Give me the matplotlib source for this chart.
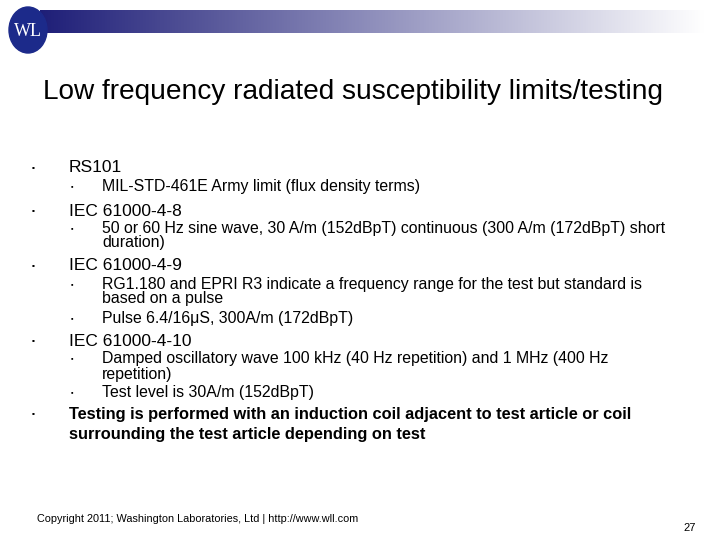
import numpy as np
import matplotlib.pyplot as plt
from matplotlib.patches import Ellipse

plt.rcParams['font.family'] = ['Liberation Sans', 'DejaVu Sans']

title = "Low frequency radiated susceptibility limits/testing"
# (level, y position in px, text)
lines = [
    (1, 168, "RS101"),
    (2, 187, "MIL-STD-461E Army limit (flux density terms)"),
    (1, 211, "IEC 61000-4-8"),
    (2, 229, "50 or 60 Hz sine wave, 30 A/m (152dBpT) continuous (300 A/m (172dBpT) short"),
    (3, 243, "duration)"),
    (1, 266, "IEC 61000-4-9"),
    (2, 285, "RG1.180 and EPRI R3 indicate a frequency range for the test but standard is"),
    (3, 299, "based on a pulse"),
    (2, 319, "Pulse 6.4/16\u03bcS, 300A/m (172dBpT)"),
    (1, 341, "IEC 61000-4-10"),
    (2, 359, "Damped oscillatory wave 100 kHz (40 Hz repetition) and 1 MHz (400 Hz"),
    (3, 374, "repetition)"),
    (2, 393, "Test level is 30A/m (152dBpT)"),
    (5, 414, "Testing is performed with an induction coil adjacent to test article or coil"),
    (4, 434, "surrounding the test article depending on test"),
]
footer = "Copyright 2011; Washington Laboratories, Ltd | http://www.wll.com"
page = "27"

fig = plt.figure(figsize=(7.2, 5.4), dpi=100)
ax = fig.add_axes([0, 0, 1, 1])
ax.set_xlim(0, 720)
ax.set_ylim(540, 0)
ax.axis('off')

# gradient header bar
grad = np.linspace(0, 1, 256)
c0 = np.array([0.12, 0.12, 0.47])
c1 = np.array([1.0, 1.0, 1.0])
img = (c0[None, :] * (1 - grad[:, None]) + c1[None, :] * grad[:, None])[None, :, :]
ax.imshow(img, extent=(40, 705, 33, 10), aspect='auto', zorder=1)

# logo
ax.add_patch(Ellipse((28, 30), 38, 46, color='#1c2a8a', zorder=2))
ax.text(28, 31, "WL", color='white', fontsize=13, family='Liberation Serif',
        ha='center', va='center', zorder=3)

ax.text(43, 92, title, fontsize=20.2, va='center', color='black')

for level, y, txt in lines:
    if level in (1, 5):
        ax.text(32, y, "\u25aa", fontsize=6, va='center')
    if level == 1:
        ax.text(69, y, txt, fontsize=12.5, va='center')
    elif level in (4, 5):
        ax.text(69, y, txt, fontsize=11.8, va='center', weight='bold')
    elif level == 2:
        ax.text(71, y, "\u25aa", fontsize=5, va='center')
        ax.text(102, y, txt, fontsize=11.45, va='center')
    else:
        ax.text(102, y, txt, fontsize=11.45, va='center')

ax.text(37, 519, footer, fontsize=7.8, va='center')
ax.text(696, 528, page, fontsize=8, va='center', ha='right')

fig.savefig("out.png", dpi=100)
